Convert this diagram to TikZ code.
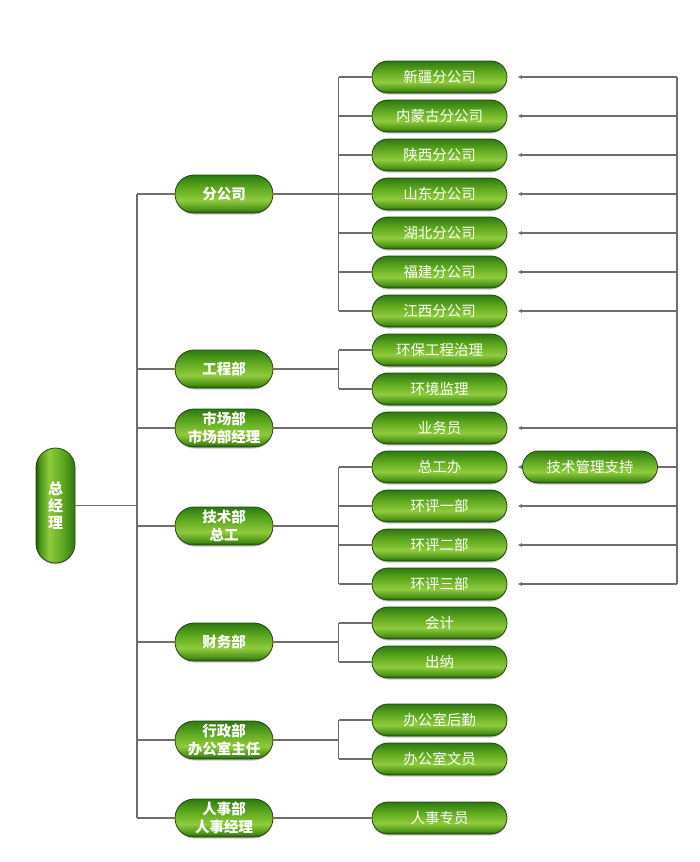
\documentclass[tikz,border=0pt]{standalone}
\usepackage{fontspec}
\setmainfont{Noto Sans CJK SC}
\usetikzlibrary{arrows.meta,shadows}
\definecolor{gB}{HTML}{1D5A0C}
\definecolor{gL}{HTML}{4E9418}
\definecolor{gM}{HTML}{8FCB3C}
\definecolor{gU}{HTML}{5AA51C}
\definecolor{gT}{HTML}{2D7812}
\definecolor{edge}{HTML}{1F4A0C}
\definecolor{conn}{HTML}{6E6E6E}
\pgfdeclareverticalshading{pill}{100bp}{color(0bp)=(gB); color(25bp)=(gB); color(30bp)=(gL); color(42bp)=(gM); color(60bp)=(gU); color(75bp)=(gT); color(100bp)=(gT)}
\tikzset{
  pillbase/.style={draw=edge, line width=0.8pt, shading=pill, text=white, align=center, inner sep=0pt,
    drop shadow={shadow xshift=0pt, shadow yshift=-1.5pt, opacity=0.35, fill=black!60}},
  rootbox/.style={pillbase, shading angle=-90, minimum width=39pt, minimum height=115pt, rounded corners=19.5pt,
    font=\fontsize{15pt}{17pt}\selectfont\bfseries},
  deptbox/.style={pillbase, minimum width=98pt, minimum height=38pt, rounded corners=19pt,
    font=\fontsize{14.5pt}{18pt}\selectfont\bfseries},
  unitbox/.style={pillbase, minimum width=135pt, minimum height=32pt, rounded corners=16pt,
    font=\fontsize{14.5pt}{17pt}\selectfont},
  link/.style={draw=conn, line width=1.3pt},
  arr/.style={link, -{Latex[length=4.5pt,width=4pt]}}
}
\begin{document}
\begin{tikzpicture}[x=1pt,y=-1pt]
\useasboundingbox (0,0) rectangle (700,862);
% root
\node[rootbox] (root) at (55.5,505.5) {总\\经\\理};
% level 1
\node[deptbox] (fgs) at (224,194) {分公司};
\node[deptbox] (gcb) at (224,369) {工程部};
\node[deptbox] (scb) at (224,428) {市场部\\市场部经理};
\node[deptbox] (jsb) at (224,526) {技术部\\总工};
\node[deptbox] (cwb) at (224,642) {财务部};
\node[deptbox] (xzb) at (224,740) {行政部\\办公室主任};
\node[deptbox] (rsb) at (224,818) {人事部\\人事经理};
% level 2
\node[unitbox] (xj) at (439.5,77) {新疆分公司};
\node[unitbox] (nmg) at (439.5,116) {内蒙古分公司};
\node[unitbox] (sx) at (439.5,155) {陕西分公司};
\node[unitbox] (sd) at (439.5,194) {山东分公司};
\node[unitbox] (hb) at (439.5,233) {湖北分公司};
\node[unitbox] (fj) at (439.5,272) {福建分公司};
\node[unitbox] (jx) at (439.5,311) {江西分公司};
\node[unitbox] (hbgc) at (439.5,350) {环保工程治理};
\node[unitbox] (hjjl) at (439.5,389) {环境监理};
\node[unitbox] (ywy) at (439.5,428) {业务员};
\node[unitbox] (zgb) at (439.5,467) {总工办};
\node[unitbox] (hp1) at (439.5,506) {环评一部};
\node[unitbox] (hp2) at (439.5,545) {环评二部};
\node[unitbox] (hp3) at (439.5,584) {环评三部};
\node[unitbox] (kj) at (439.5,623) {会计};
\node[unitbox] (cn) at (439.5,662) {出纳};
\node[unitbox] (hq) at (439.5,720) {办公室后勤};
\node[unitbox] (wy) at (439.5,759) {办公室文员};
\node[unitbox] (rszy) at (439.5,818) {人事专员};
% level 3
\node[unitbox] (jszc) at (590,467) {技术管理支持};
% bus coordinates
\coordinate (tx) at (137,0);
\coordinate (bx) at (338.5,0);
\coordinate (rx) at (677,0);
% trunk
\draw[link] (fgs.west -| tx) -- (rsb.west -| tx);
\draw[link] (root.east) -- (root.east -| tx);
\foreach \n in {fgs,gcb,scb,jsb,cwb,xzb,rsb}
  \draw[link] (\n.west) -- (\n.west -| tx);
% 分公司
\draw[link] (fgs.east) -- (fgs.east -| bx);
\draw[link] (xj.west -| bx) -- (jx.west -| bx);
\foreach \n in {xj,nmg,sx,sd,hb,fj,jx}
  \draw[link] (\n.west) -- (\n.west -| bx);
% 工程部
\draw[link] (gcb.east) -- (gcb.east -| bx);
\draw[link] (hbgc.west -| bx) -- (hjjl.west -| bx);
\foreach \n in {hbgc,hjjl}
  \draw[link] (\n.west) -- (\n.west -| bx);
% 市场部
\draw[link] (scb.east) -- (ywy.west);
% 技术部
\draw[link] (jsb.east) -- (jsb.east -| bx);
\draw[link] (zgb.west -| bx) -- (hp3.west -| bx);
\foreach \n in {zgb,hp1,hp2,hp3}
  \draw[link] (\n.west) -- (\n.west -| bx);
% 财务部
\draw[link] (cwb.east) -- (cwb.east -| bx);
\draw[link] (kj.west -| bx) -- (cn.west -| bx);
\foreach \n in {kj,cn}
  \draw[link] (\n.west) -- (\n.west -| bx);
% 行政部
\draw[link] (xzb.east) -- (xzb.east -| bx);
\draw[link] (hq.west -| bx) -- (wy.west -| bx);
\foreach \n in {hq,wy}
  \draw[link] (\n.west) -- (\n.west -| bx);
% 人事部
\draw[link] (rsb.east) -- (rszy.west);
% right feedback line
\draw[link] (xj.east -| rx) -- (hp3.east -| rx);
\foreach \n in {xj,nmg,sx,sd,hb,fj,jx,ywy,hp1,hp2,hp3}
  \draw[arr] (\n.east -| rx) -- ([xshift=10pt]\n.east);
\draw[link] (jszc.east) -- (jszc.east -| rx);
\draw[arr] (jszc.west) -- ([xshift=10pt]zgb.east);
\end{tikzpicture}
\end{document}
